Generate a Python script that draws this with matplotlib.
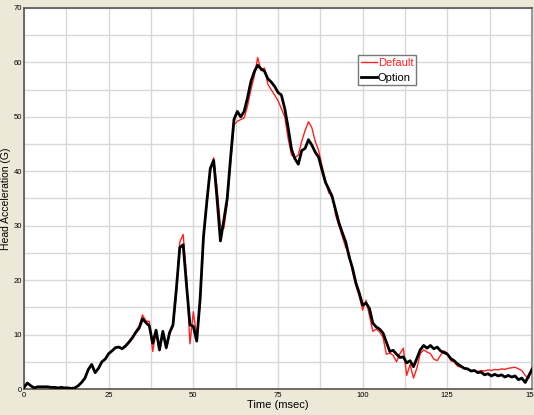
import matplotlib
matplotlib.use("Agg")
import matplotlib.pyplot as plt
from matplotlib.ticker import MultipleLocator

time_ms = list(range(0, 151))

option = [
    0.3, 1.1, 0.6, 0.2, 0.4, 0.4, 0.4, 0.4, 0.3, 0.3,
    0.2, 0.3, 0.2, 0.2, 0.1, 0.2, 0.6, 1.2, 2.0, 3.6,
    4.5, 3.0, 3.8, 5.0, 5.5, 6.5, 7.0, 7.6, 7.7, 7.4,
    7.9, 8.6, 9.4, 10.4, 11.2, 12.9, 12.2, 11.6, 8.4, 10.8,
    7.2, 10.6, 7.6, 10.4, 11.8, 18.5, 26.0, 26.5, 19.0, 11.8,
    11.5, 8.8, 16.5, 28.0, 34.5, 40.5, 42.0, 35.0, 27.2, 31.0,
    35.0, 42.5, 49.5, 51.0, 50.0, 51.0, 53.5, 56.5, 58.3, 59.5,
    58.8, 58.4, 57.0, 56.4, 55.6, 54.5, 54.0, 51.5, 48.0, 44.0,
    42.3, 41.3, 43.8, 44.2, 45.8, 44.8, 43.5, 42.6, 40.2, 38.0,
    36.7, 35.3, 32.9, 30.5, 28.7, 27.0, 24.3, 22.2, 19.5, 17.6,
    15.4, 15.8, 14.8, 12.1, 11.4, 11.0, 10.3, 8.6, 6.9, 7.1,
    6.4, 5.8, 5.9, 4.8, 5.2, 4.1, 5.6, 7.2, 8.0, 7.5,
    8.0, 7.4, 7.7, 7.0, 6.7, 6.4, 5.6, 5.2, 4.6, 4.2,
    3.8, 3.7, 3.3, 3.4, 3.0, 3.1, 2.6, 2.8, 2.4, 2.7,
    2.4, 2.6, 2.2, 2.5, 2.2, 2.4, 1.7, 2.0, 1.2, 2.4,
    3.6,
]

default = [
    0.3, 1.1, 0.6, 0.2, 0.4, 0.4, 0.4, 0.4, 0.3, 0.3,
    0.2, 0.3, 0.2, 0.2, 0.1, 0.2, 0.6, 1.2, 2.0, 3.6,
    4.5, 3.0, 3.8, 5.0, 5.5, 6.5, 7.0, 7.6, 7.7, 7.4,
    8.1, 8.8, 9.6, 10.6, 11.6, 13.6, 12.5, 12.4, 6.9, 10.5,
    7.0, 10.2, 7.4, 10.0, 11.5, 17.5, 27.0, 28.4, 20.5, 8.3,
    14.2, 9.5, 15.5, 27.5, 34.0, 40.0, 42.5, 37.0, 30.0, 29.5,
    34.0, 41.5, 48.5, 49.2, 49.5, 49.8, 52.0, 55.0, 57.5, 60.9,
    58.5, 59.0, 56.0, 55.0, 54.0, 53.0, 51.5, 50.0, 46.0, 43.0,
    42.5, 43.0, 45.5, 47.5, 49.1, 48.0, 45.5, 43.8, 41.0, 38.5,
    36.0, 35.8, 32.0, 30.0, 28.0, 26.0, 25.0, 21.5, 19.0, 17.0,
    14.5, 16.3, 13.5, 10.6, 11.0, 10.5, 9.5, 6.4, 6.6, 6.2,
    5.0, 6.5, 7.5, 2.5, 4.5, 2.0, 3.8, 6.5, 7.2, 6.8,
    6.5, 5.5, 5.2, 6.2, 7.0, 6.6, 5.2, 5.0, 4.2, 4.0,
    3.8, 3.6, 3.4, 3.3, 3.2, 3.4, 3.3, 3.5, 3.4, 3.6,
    3.5, 3.7, 3.6, 3.8, 3.9, 4.0, 3.7, 3.4, 2.5, 1.9,
    4.0,
]

x_ticks = [0, 25, 50, 75, 100, 125, 150]
y_ticks = [0, 10, 20, 30, 40, 50, 60, 70]

narrow = ['Liberation Sans Narrow', 'Liberation Sans', 'DejaVu Sans']
regular = ['Liberation Sans', 'DejaVu Sans']

fig = plt.figure(figsize=(5.34, 4.15), dpi=100, facecolor='#ECE9D8')
ax = fig.add_axes([24/534, 26/415, 508/534, 381/415])
ax.set_facecolor('white')

ax.plot(time_ms, default, color='#FF2020', lw=1.0, label='Default', zorder=3)
ax.plot(time_ms, option, color='black', lw=2.0, label='Option', zorder=4)

ax.set_xlim(0, 150)
ax.set_ylim(0, 70)
ax.set_xticks(x_ticks)
ax.set_yticks(y_ticks)
ax.xaxis.set_minor_locator(MultipleLocator(12.5))
ax.yaxis.set_minor_locator(MultipleLocator(5))
ax.grid(which='both', color='#D8D8D8', lw=1.0, zorder=0)
ax.set_axisbelow(True)
ax.tick_params(which='both', length=0)
ax.tick_params(axis='x', pad=2)
ax.tick_params(axis='y', pad=1.5)
for lab in ax.get_xticklabels() + ax.get_yticklabels():
    lab.set_family(narrow)
    lab.set_fontsize(5.5)

for side in ['left', 'top', 'bottom']:
    ax.spines[side].set_color('#555555')
    ax.spines[side].set_linewidth(1.2)
ax.spines['right'].set_color('#999999')
ax.spines['right'].set_linewidth(1.5)

ax.set_xlabel('Time (msec)', family=narrow, fontsize=8, labelpad=1)
ax.set_ylabel('Head Acceleration (G)', family=regular, fontsize=7.5)
ax.yaxis.set_label_coords(-0.026, 0.5)

leg = ax.legend(loc='upper left', bbox_to_anchor=(0.657, 0.877), frameon=True,
                fancybox=False, edgecolor='#777777', framealpha=1,
                handlelength=1.5, handletextpad=0.05, borderpad=0.25,
                borderaxespad=0, labelspacing=0.45,
                prop={'family': narrow, 'size': 8})
leg.get_frame().set_linewidth(1.0)
for txt, ln in zip(leg.get_texts(), leg.get_lines()):
    txt.set_color(ln.get_color())

fig.savefig('out.png', dpi=100, facecolor=fig.get_facecolor())
